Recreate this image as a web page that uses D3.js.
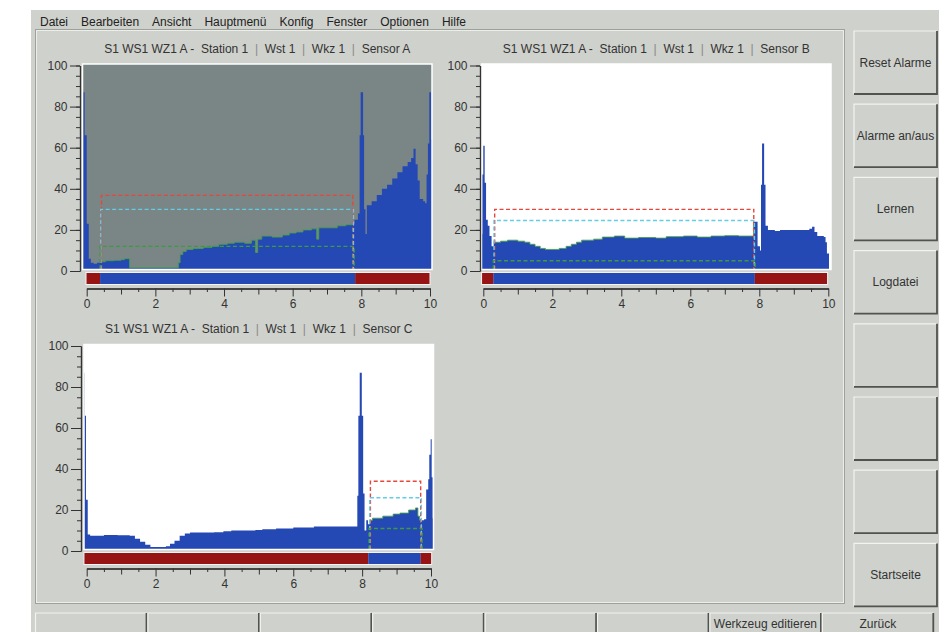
<!DOCTYPE html>
<html>
<head>
<meta charset="utf-8">
<script src="https://cdn.jsdelivr.net/npm/d3@7"></script>
<style>
  body { margin: 0; background: #fff; }
  svg { display: block; font-family: "Liberation Sans", Arial, sans-serif; }
</style>
</head>
<body>
<div id="chart"></div>
<script>
// Werte: [x, Wert]
var sensorA = [[-0.1,87],[-0.06,66],[0,23],[0.06,6],[0.12,4],[0.2,3.5],[0.3,4],[0.4,4.5],[0.55,5],[0.8,5.2],
  [1.0,5.5],[1.1,6],[1.25,1.6],[2.67,4],[2.72,8],[2.8,9.5],[2.9,10.5],[3.1,11],[3.4,11.5],[3.65,12],[3.85,13],
  [4.1,13.5],[4.3,14],[4.6,13.5],[4.8,15],[4.92,9],[4.98,15.5],[5.1,17],[5.4,16.5],[5.7,17.5],[5.9,18.5],
  [6.1,19],[6.3,20],[6.55,20.5],[6.7,15.5],[6.76,21],[7.0,21],[7.3,22],[7.55,22.5],[7.72,23],[7.8,25],[7.9,28],
  [7.95,66],[7.98,87],[8.05,66],[8.08,30],[8.12,18],[8.16,32],[8.3,34],[8.45,37],[8.6,40],[8.75,42],[8.9,45],
  [9.05,48],[9.2,51],[9.35,53],[9.45,55],[9.52,59.5],[9.58,52],[9.64,44],[9.7,35],[9.8,34],[9.86,33],[9.9,47],
  [9.94,62],[9.98,87],[10.03,64],[10.08,64]];

var sensorB = [[-0.06,18],[-0.03,47],[0,61],[0.04,43],[0.08,25],[0.13,22],[0.18,17],[0.24,12],[0.3,14],[0.5,14.5],
  [0.7,15],[1.0,14.5],[1.2,14],[1.35,13],[1.5,12],[1.65,11],[1.8,10.5],[2.2,11],[2.4,12],[2.55,13],[2.7,14],
  [2.85,15],[3.2,15.5],[3.45,16.5],[3.8,17],[4.1,16],[4.5,16.3],[5.0,16],[5.3,16.7],[5.8,17],[6.2,16.5],[6.6,17],
  [7.0,17.2],[7.4,17],[7.83,24],[7.95,12],[8.02,10],[8.05,42],[8.08,62],[8.14,42],[8.18,22],[8.25,20],[8.45,19.5],
  [8.6,20],[9.0,20],[9.45,20.5],[9.53,21.5],[9.6,19],[9.68,17],[9.87,16.5],[9.92,14],[9.96,8.5],[10.02,8.5]];

var sensorC = [[-0.1,87],[-0.06,66],[-0.02,25],[0.03,8],[0.1,7.5],[0.5,7.8],[0.9,7.7],[1.25,7.5],[1.4,6],[1.55,4.5],
  [1.7,3],[1.85,2],[2.3,2.3],[2.42,3.5],[2.55,5],[2.7,7.5],[2.85,8.5],[3.0,9],[3.7,9.2],[3.97,9.6],[4.2,10],
  [4.9,10.2],[5.1,10.6],[5.5,11],[6.0,11.5],[6.6,12],[7.86,27],[7.89,66],[7.93,87],[7.99,66],[8.03,28],[8.07,10],
  [8.12,15],[8.17,13],[8.22,15],[8.3,16],[8.6,17],[8.9,18],[9.1,18.5],[9.35,20],[9.55,21],[9.62,17],[9.67,15],
  [9.8,15.5],[9.86,30],[9.92,35],[9.95,47],[9.99,54.5],[10.02,36],[10.05,16],[10.08,16]];

// Grenzen: [von, bis, Niveau] in der Reihenfolge rot, cyan, gruen
var limitsA = [[0.43,7.75,36.8],[0.41,7.77,30],[0.39,7.79,12]];
var limitsB = [[0.33,7.84,30],[0.31,7.86,24.6],[0.29,7.88,5]];
var limitsC = [[8.24,9.70,34],[8.22,9.72,26],[8.20,9.74,11]];

// Statusleiste: [von, bis, im Fenster?]
var statusA = [[-0.02,0.39,0],[0.39,7.82,1],[7.82,10,0]];
var statusB = [[-0.05,0.29,0],[0.29,7.87,1],[7.87,9.98,0]];
var statusC = [[-0.08,8.18,0],[8.18,9.7,1],[9.7,10.02,0]];

var xTicks = [0, 2, 4, 6, 8, 10];
var yTicks = [0, 20, 40, 60, 80, 100];
var titlePrefix = "S1 WS1 WZ1 A -";
var titleParts = ["Station 1", "Wst 1", "Wkz 1"];
var sensorNames = ["Sensor A", "Sensor B", "Sensor C"];

var menuItems = ["Datei", "Bearbeiten", "Ansicht", "Hauptmenü", "Konfig", "Fenster", "Optionen", "Hilfe"];
var sideButtons = ["Reset Alarme", "Alarme an/aus", "Lernen", "Logdatei", "", "", "", "Startseite"];
var bottomButtons = ["", "", "", "", "", "", "Werkzeug editieren", "Zurück"];

var bgColor = "#cfd1cc",
    blue = "#2448b4",
    darkRed = "#971414",
    limitColors = ["#e8463a", "#62cde4", "#3e9a42"],
    textColor = "#333";

var svg = d3.select("#chart").append("svg")
  .attr("width", 948)
  .attr("height", 632);

// Fensterhintergrund
svg.append("rect")
  .attr("x", 31).attr("y", 10).attr("width", 908).attr("height", 622)
  .attr("fill", bgColor);

// Menue
var mx = 40;
menuItems.forEach(function(m) {
  var t = svg.append("text")
    .attr("x", mx).attr("y", 25.8)
    .style("font-size", "12px")
    .attr("fill", "#222")
    .text(m);
  mx += t.node().getComputedTextLength() + 13;
});

// Hauptrahmen
svg.append("rect")
  .attr("x", 35.5).attr("y", 29.5).attr("width", 809).attr("height", 574)
  .attr("fill", "none").attr("stroke", "#9ea19b");
svg.append("rect")
  .attr("x", 36.5).attr("y", 30.5).attr("width", 807).attr("height", 572)
  .attr("fill", "none").attr("stroke", "#eceee9");

var panels = [
  {data: sensorA, limits: limitsA, status: statusA, name: sensorNames[0], bg: "#7a8585",
   x0: 86.7, x1: 430, yTop: 65.5, yBot: 271, plotL: 82.5, plotR: 432, axisX: 80},
  {data: sensorB, limits: limitsB, status: statusB, name: sensorNames[1], bg: "#ffffff",
   x0: 483.3, x1: 828.3, yTop: 65.5, yBot: 271, plotL: 481.5, plotR: 831, axisX: 480},
  {data: sensorC, limits: limitsC, status: statusC, name: sensorNames[2], bg: "#ffffff",
   x0: 86.7, x1: 431, yTop: 346, yBot: 551, plotL: 84, plotR: 433.5, axisX: 81}
];

panels.forEach(function(p, i) {
  var g = svg.append("g");
  var x = d3.scaleLinear().domain([0, 10]).range([p.x0, p.x1]);
  var y = d3.scaleLinear().domain([0, 100]).range([p.yBot, p.yTop]);
  var top = p.yTop - 1.5, bottom = p.yBot - 1.5;

  // Titel
  var title = g.append("text")
    .attr("x", (p.plotL + p.plotR) / 2)
    .attr("y", p.yTop - 13)
    .attr("text-anchor", "middle")
    .style("font-size", "12px")
    .style("white-space", "pre")
    .attr("fill", textColor);
  title.append("tspan").text(titlePrefix + "  ");
  titleParts.concat([p.name]).forEach(function(s, k) {
    if (k > 0) title.append("tspan").attr("fill", "#8a8a8a").text("  |  ");
    title.append("tspan").text(s);
  });

  // Plotflaeche
  g.append("rect")
    .attr("x", p.plotL).attr("y", top)
    .attr("width", p.plotR - p.plotL).attr("height", bottom - top)
    .attr("fill", p.bg);

  var clipId = "clip" + i;
  g.append("clipPath").attr("id", clipId)
    .append("rect")
    .attr("x", p.plotL).attr("y", top)
    .attr("width", p.plotR - p.plotL).attr("height", bottom - top);

  var area = d3.area()
    .curve(d3.curveStepAfter)
    .x(function(d) { return x(d[0]); })
    .y0(bottom)
    .y1(function(d) { return y(d[1]); });

  g.append("path")
    .datum(p.data)
    .attr("clip-path", "url(#" + clipId + ")")
    .attr("d", area)
    .attr("fill", blue);

  // gelernte Kurve im Fenster (gruen)
  var win = p.limits[2];
  var line = d3.line()
    .curve(d3.curveStepAfter)
    .x(function(d) { return x(d[0]); })
    .y(function(d) { return y(d[1]); });
  g.append("path")
    .datum(p.data.filter(function(d) { return d[0] >= win[0] && d[0] <= win[1]; }))
    .attr("d", line)
    .attr("fill", "none")
    .attr("stroke", "#46a14a")
    .attr("stroke-width", 1)
    .attr("opacity", 0.85);

  // Grenzen
  p.limits.forEach(function(l, k) {
    g.append("path")
      .attr("d", "M" + x(l[0]) + "," + bottom + "V" + y(l[2]) + "H" + x(l[1]) + "V" + bottom)
      .attr("fill", "none")
      .attr("stroke", limitColors[k])
      .attr("stroke-width", 1.4)
      .attr("stroke-dasharray", "4,2.5");
  });

  // weisser Rahmen
  g.append("rect")
    .attr("x", p.plotL).attr("y", top)
    .attr("width", p.plotR - p.plotL).attr("height", bottom - top)
    .attr("fill", "none")
    .attr("stroke", "#fff")
    .attr("stroke-width", 1.5);

  // Statusleiste
  g.selectAll(".status")
    .data(p.status)
    .enter().append("rect")
    .attr("x", function(d) { return x(d[0]); })
    .attr("y", p.yBot + 1.5)
    .attr("width", function(d) { return x(d[1]) - x(d[0]); })
    .attr("height", 12)
    .attr("fill", function(d) { return d[2] ? blue : darkRed; });
  g.append("rect")
    .attr("x", x(p.status[0][0])).attr("y", p.yBot + 1.5)
    .attr("width", x(p.status[2][1]) - x(p.status[0][0])).attr("height", 12)
    .attr("fill", "none").attr("stroke", "#f4f4f4").attr("stroke-width", 1);

  // Y-Achse
  g.append("g")
    .attr("transform", "translate(" + p.axisX + ",0)")
    .attr("color", textColor)
    .call(d3.axisLeft(y).tickValues(yTicks).tickSize(10).tickSizeOuter(0).tickPadding(2.5));
  g.append("g")
    .attr("transform", "translate(" + p.axisX + ",0)")
    .attr("color", textColor)
    .call(d3.axisLeft(y).tickValues(d3.range(0, 101, 5)).tickSize(4).tickSizeOuter(0).tickFormat(""));

  // X-Achse
  var xg = g.append("g")
    .attr("transform", "translate(0," + (p.yBot + 17.5) + ")")
    .attr("color", textColor);
  xg.call(d3.axisBottom(x).tickValues(xTicks).tickSize(8).tickSizeOuter(0).tickPadding(2.5));
  xg.append("g").call(d3.axisBottom(x).tickValues([1, 3, 5, 7, 9]).tickSize(6).tickSizeOuter(0).tickFormat(""));
  xg.append("g").call(d3.axisBottom(x).tickValues(d3.range(0.5, 10, 1)).tickSize(3.5).tickSizeOuter(0).tickFormat(""));

  g.selectAll(".tick text")
    .style("font-size", "12px")
    .style("font-family", "'Liberation Sans', Arial, sans-serif");
  g.selectAll(".domain").attr("stroke-width", 1.2);
});

// Schaltflaechen
function button(bx, by, w, h, label) {
  var b = svg.append("g");
  b.append("rect").attr("x", bx).attr("y", by).attr("width", w).attr("height", h).attr("fill", bgColor);
  b.append("path").attr("d", "M" + bx + "," + (by + h) + "V" + by + "H" + (bx + w))
    .attr("fill", "none").attr("stroke", "#f3f4f1").attr("stroke-width", 1.2);
  b.append("path").attr("d", "M" + bx + "," + (by + h) + "H" + (bx + w) + "V" + by)
    .attr("fill", "none").attr("stroke", "#50534e").attr("stroke-width", 1.8);
  if (label) {
    b.append("text")
      .attr("x", bx + w / 2).attr("y", Math.min(by + h / 2 + 4, 627.5))
      .attr("text-anchor", "middle")
      .style("font-size", "12px")
      .attr("fill", textColor)
      .text(label);
  }
}

sideButtons.forEach(function(l, i) { button(854, 31 + i * 73.2, 83, 63, l); });
bottomButtons.forEach(function(l, i) { button(35.5 + i * 112.4, 613, 111, 36, l); });
</script>
</body>
</html>
